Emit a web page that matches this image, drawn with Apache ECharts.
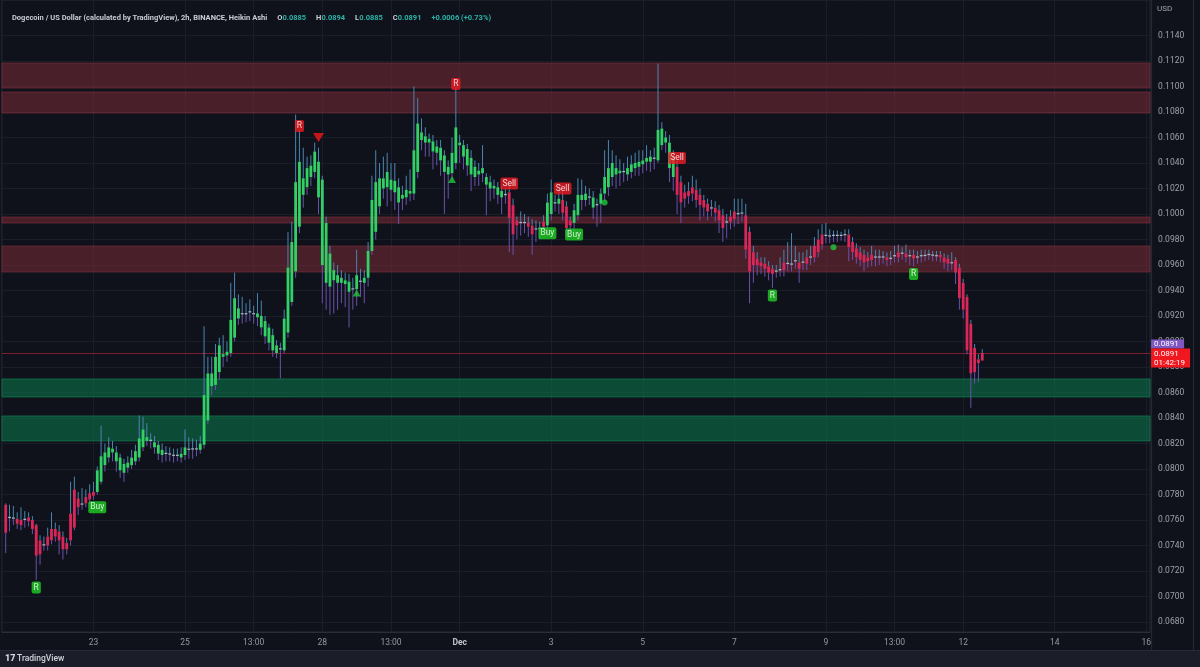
<!DOCTYPE html>
<html><head><meta charset="utf-8">
<script src="https://cdn.jsdelivr.net/npm/echarts@6/dist/echarts.min.js"></script>
<style>html,body{margin:0;padding:0;background:#0f121a;overflow:hidden}#c{width:1200px;height:667px}</style>
</head><body><div id="c"></div>
<script>
// ---- data (2h Heikin Ashi candles, index = 2h slot from Nov 21 00:00) ----
const firstSlot = 1;
const opens = [
.0772,.07615,.0762,.0761,.0760,.0760,.0762,.0760,.0756,.0744,
.0740,.0740,.0744,.0753,.0751,.0747,.0742,.0744,.0754,.0777,
.0772,.0773,.0776,.0779,.0782,.0790,.0803,.0809,.0813,.0813,
.0809,.0804,.0801,.0803,.0806,.0809,.0817,.0825,.0823,.0821,
.0819,.0815,.08125,.0812,.0811,.08105,.0809,.0811,.0815,.0816,
.08155,.0815,.0819,.0838,.0865,.0866,.0876,.0888,.0889,.0891,
.0903,.0918,.09215,.0922,.0923,.0922,.0922,.0920,.0916,.0911,
.0905,.0897,.0894,.0893,.0907,.0931,.0955,.0990,.1015,.1021,
.1029,.1033,.1041,.1027,.0993,.0969,.0956,.0952,.0950,.0948,
.0947,.0941,.0941,.0947,.0946,.0950,.0971,.0986,.1006,.1020,
.1021,.1027,.1026,.1021,.1015,.1013,.1018,.1016,.1033,.1064,
.1061,.1059,.1057,.1053,.1052,.1046,.1037,.1032,.1040,.1056,
.1054,.1051,.1044,.1037,.1034,.1032,.1029,.1025,.1022,.1021,
.1018,.1015,.1017,.1007,.0995,.09935,.0993,.0993,.0991,.0988,
.0989,.0990,.0991,.1000,.10085,.1008,.1011,.1006,.0995,.0993,
.0999,.1011,.1011,.1013,.1013,.1007,.1008,.1016,.1021,.1029,
.1031,.1032,.1033,.1031,.1033,.1036,.1037,.1039,.1041,.1041,
.10435,.1042,.1054,.1060,.1056,.1045,.1037,.1025,.1017,.1014,
.1016,.1019,.1015,.1011,.1008,.1005,.1005,.1003,.0999,.0994,
.0994,.0996,.1000,.10005,.0999,.0986,.0970,.0965,.0962,.0961,
.0959,.0957,.0955,.0956,.0956,.0961,.0961,.0963,.0962,.0962,
.0961,.0966,.0966,.0970,.0976,.0983,.0983,.0983,.09835,.0983,
.09835,.0984,.0978,.0973,.0970,.0968,.0966,.0964,.0966,.09665,
.0966,.0966,.0965,.0967,.0966,.0969,.0969,.0967,.0968,.0966,
.0967,.0967,.0968,.0968,.09675,.0968,.0966,.0965,.0962,.0964,
.0958,.0946,.0935,.0914,.0895,.0886,.0885];
const closes = [
.0750,.07625,.0761,.0757,.0756,.0761,.0759,.0753,.0732,.0733,
.0741,.0747,.0753,.0747,.0744,.0737,.0737,.0765,.0784,.0770,
.0773,.0778,.0781,.0782,.0799,.0810,.0813,.0817,.0816,.0806,
.0799,.0797,.0805,.0809,.0814,.0824,.0831,.0822,.0822,.0817,
.0812,.0811,.0812,.08115,.08105,.0811,.0812,.0817,.0816,.08155,
.0816,.0820,.0858,.0875,.0875,.0888,.0897,.0890,.0892,.0917,
.0934,.0926,.0922,.09215,.09235,.09215,.0919,.0911,.0904,.0899,
.0893,.0891,.08945,.0918,.0958,.0978,.1025,.1041,.1028,.1036,
.1038,.1049,.1013,.0960,.0946,.0943,.0948,.0946,.0946,.0945,
.0939,.09415,.0952,.09475,.0950,.0971,.1011,.1025,.1028,.1028,
.1033,.1019,.1017,.1009,.1012,.1019,.1016,.1050,.1071,.1058,
.1056,.1056,.1049,.1048,.1042,.1033,.1031,.1048,.1068,.1054,
.1045,.1038,.1031,.1029,.1031,.1036,.1023,.1020,.1020,.1015,
.1013,.10155,.0997,.0984,.0991,.0993,.09935,.0990,.0984,.09885,
.09885,.0994,.1009,.1017,.1009,.1012,.1001,.0989,.0991,.1003,
.1015,.1015,.1016,.10135,.1005,.10075,.1016,.1029,.1036,.1040,
.1036,.1034,.10335,.1036,.1039,.1040,.1041,.1042,.1044,.1045,
.1044,.1066,.1067,.1056,.1036,.1029,.1015,.1009,.1012,.1018,
.1021,.1011,.1007,.1005,.1002,.10045,.1001,.0995,.0989,.09935,
.0998,.1002,.10005,.1001,.0972,.0955,.0960,.0960,.0959,.0957,
.0954,.0953,.09555,.09565,.0962,.09615,.09605,.09635,.0957,.09625,
.0966,.09665,.0975,.0980,.0984,.09835,.09825,.09835,.0983,.09835,
.0984,.0974,.0970,.0966,.0964,.0962,.0963,.0968,.09665,.0966,
.09665,.0964,.09655,.09675,.0970,.09695,.0966,.09675,.0965,.09665,
.09675,.0968,.09685,.09675,.0967,.0966,.0962,.0961,.09615,.0954,
.0934,.0925,.0893,.0875,.0876,.0883,.0891];
const lows = [
.0734,.0751,.0756,.0753,.0752,.0754,.0755,.0749,.0713,.0725,
.0736,.0736,.0741,.0743,.0733,.0729,.0733,.0740,.0752,.0764,
.0768,.0770,.0773,.0776,.0780,.0788,.0798,.0805,.0806,.0798,
.0793,.0790,.0797,.0800,.0803,.0806,.0814,.0818,.0816,.0812,
.0807,.0805,.0806,.0806,.0805,.0806,.0805,.0807,.0808,.0808,
.0810,.0812,.0816,.0835,.0858,.0862,.0870,.0880,.0884,.0888,
.0900,.0913,.0914,.0915,.0916,.0914,.0912,.0905,.0898,.0893,
.0888,.0887,.0871,.0891,.0903,.0928,.0950,.0985,.1005,.1015,
.1022,.1028,.1000,.0930,.0925,.0921,.0922,.0925,.0930,.0927,
.0911,.0925,.0928,.0935,.0930,.0943,.0968,.0980,.1000,.1012,
.1006,.1010,.1003,.0992,.1003,.1007,.1010,.1011,.1028,.1050,
.1045,.1045,.1035,.1038,.1030,.1000,.1012,.1027,.1035,.1040,
.1035,.1030,.1018,.1022,.1022,.1025,.0999,.1010,.1012,.1008,
.1000,.1008,.0970,.0968,.0980,.0983,.0985,.0982,.0968,.0978,
.0980,.0985,.0985,.0995,.1002,.1000,.0995,.0983,.0985,.0986,
.0995,.1003,.1006,.1007,.0996,.0990,.0993,.1010,.1014,.1022,
.1020,.1022,.1025,.1026,.1028,.1030,.1030,.1032,.1034,.1033,
.1035,.1040,.1050,.1048,.1025,.1018,.1000,.0993,.1005,.1008,
.1010,.1005,.0995,.0998,.0995,.0998,.0994,.0985,.0978,.0981,
.0988,.0990,.0992,.0994,.0965,.0930,.0946,.0952,.0953,.0951,
.0948,.0942,.0950,.0951,.0951,.0955,.0955,.0957,.0946,.0956,
.0956,.0960,.0962,.0966,.0972,.0977,.0977,.0978,.0978,.0979,
.0978,.0963,.0964,.0961,.0959,.0955,.0958,.0959,.0959,.0960,
.0961,.0959,.0960,.0962,.0962,.0964,.0962,.0960,.0959,.0961,
.0962,.0963,.0964,.0963,.0963,.0962,.0957,.0955,.0956,.0945,
.0925,.0918,.0890,.0848,.0867,.0868,.0885];
const highs = [
.0773,.0772,.0771,.0766,.0770,.0767,.0766,.0763,.0757,.0748,
.0747,.0754,.0766,.0758,.0756,.0751,.0746,.0790,.0794,.0782,
.0785,.0784,.0788,.0790,.0802,.0834,.0820,.0825,.0822,.0818,
.0812,.0808,.0810,.0815,.0819,.0842,.0841,.0836,.0828,.0826,
.0822,.0820,.0818,.0817,.0816,.0816,.0817,.0831,.0825,.0824,
.0823,.0826,.0912,.0888,.0888,.0898,.0903,.0905,.0900,.0946,
.0954,.0937,.0935,.0930,.0933,.0928,.0938,.0932,.0920,.0914,
.0910,.0901,.0899,.0925,.0986,.0994,.1078,.1066,.1052,.1045,
.1046,.1056,.1052,.1030,.0998,.0975,.0962,.0960,.0956,.0954,
.0953,.0950,.0972,.0957,.0956,.0978,.1030,.1050,.1040,.1045,
.1048,.1040,.1040,.1028,.1022,.1030,.1035,.1100,.1091,.1075,
.1068,.1063,.1062,.1058,.1058,.1050,.1042,.1060,.1099,.1062,
.1058,.1055,.1050,.1042,.1040,.1054,.1032,.1030,.1027,.1025,
.1022,.1020,.1025,.1012,.0998,.1002,.1000,.0998,.0996,.0995,
.0994,.0999,.1016,.1027,.1015,.1018,.1018,.1010,.0998,.1008,
.1028,.1027,.1022,.1020,.1018,.1012,.1020,.1050,.1058,.1050,
.1046,.1043,.1040,.1045,.1046,.1048,.1050,.1050,.1054,.1050,
.1052,.1118,.1072,.1065,.1062,.1050,.1042,.1030,.1023,.1025,
.1030,.1027,.1020,.1015,.1012,.1011,.1010,.1007,.1004,.1000,
.1003,.1012,.1012,.1012,.1008,.0990,.0975,.0970,.0966,.0966,
.0963,.0960,.0960,.0966,.0972,.0978,.0985,.0975,.0970,.0970,
.0972,.0975,.0982,.0988,.0992,.0993,.0988,.0987,.0987,.0986,
.0988,.0988,.0982,.0977,.0974,.0972,.0970,.0975,.0972,.0972,
.0971,.0970,.0971,.0975,.0976,.0974,.0976,.0972,.0972,.0971,
.0972,.0972,.0972,.0971,.0971,.0971,.0969,.0968,.0970,.0966,
.0961,.0949,.0937,.0917,.0898,.0890,.0894];

// signals: [slot, price]
const buyLabels   = [[25,0.0770],[143,0.0985],[150,0.0984]];
const sellLabels  = [[133,0.1024],[147,0.1020],[177,0.1044]];
const rRedLabels  = [[78,0.1069],[119,0.1102]];
const rGreenLabels= [[9,0.0707],[202,0.0936],[239,0.0953]];
const triDown     = [[83,0.1060]];
const triUp       = [[93,0.0938],[118,0.1027]];
const dots        = [[158,0.1009],[218,0.0974]];

// zones: [low, high]
const supplyZones = [[0.10988,0.11184],[0.10792,0.10957],[0.09929,0.09976],[0.09545,0.09749]];
const demandZones = [[0.08565,0.08706],[0.08220,0.08416]];

const lastPrice = 0.0891;
const countdown = '01:42:19';
const xTickLabels = [[24,'23'],[48,'25'],[66,'13:00'],[84,'28'],[102,'13:00'],[120,'Dec'],[144,'3'],[168,'5'],[192,'7'],[216,'9'],[234,'13:00'],[252,'12'],[276,'14'],[300,'16']];
const yTickMin = 0.068, yTickMax = 0.114, yTickStep = 0.002;
const headerName = 'Dogecoin / US Dollar (calculated by TradingView), 2h, BINANCE, Heikin Ashi';
const headerO = '0.0885', headerH = '0.0894', headerL = '0.0885', headerC = '0.0891', headerChg = '+0.0006 (+0.73%)';

// ---- build ----
const slotCount = 302;
const cats = [];
for (let k = 0; k < slotCount; k++) cats.push(String(k));
const tickMap = {}; xTickLabels.forEach(t => tickMap[t[0]] = t[1]);

const GREEN = '#33d068', RED = '#d8285a', GREY = '#a9bccb', WICK_UP = '#4a86b0', WICK_DN = '#6a52ab';
const candleData = opens.map((o, i) => [i + firstSlot, o, closes[i], lows[i], highs[i]]);
const buySet = new Set(buyLabels.map(d => d[0])), sellSet = new Set(sellLabels.map(d => d[0]));
const trend = []; let st = -1;
candleData.forEach(d => { if (buySet.has(d[0])) st = 1; if (sellSet.has(d[0])) st = -1; trend.push(st); });

const pxPerUnit = 12750;
const gridLeft = 1.9, gridRight = 49.9;
const yMaxA = yTickMax + 35.5 / pxPerUnit, yMinA = yTickMin - 10 / pxPerUnit;

const FONT = 'Roboto, "Noto Sans", sans-serif';
const chart = echarts.init(document.getElementById('c'));

function labelSeries(data, text, bg) {
  return { type: 'scatter', xAxisIndex: 0, yAxisIndex: 0, data: data, symbolSize: 1, z: 10, silent: true,
    itemStyle: { color: 'transparent' },
    label: { show: true, position: 'inside', formatter: text, color: '#ffffff', backgroundColor: bg,
      fontSize: 8.5, fontFamily: FONT, padding: [2, 2, 1, 2], borderRadius: 2 } };
}

chart.setOption({
  backgroundColor: '#0f121a',
  animation: false,
  title: {
    left: 7, top: 4,
    text: '{t|' + headerName + '}  {t|O}{v|' + headerO + '}  {t|H}{v|' + headerH + '}  {t|L}{v|' + headerL + '}  {t|C}{v|' + headerC + '}  {v|' + headerChg + '}',
    textStyle: { rich: { t: { color: '#c9ccd4', fontSize: 7.5, fontFamily: FONT }, v: { color: '#2bb3a8', fontSize: 7.5, fontFamily: FONT } } }
  },
  grid: [
    { left: gridLeft, right: gridRight, top: 0, bottom: 35, show: true, borderColor: '#262a36', borderWidth: 1, backgroundColor: 'transparent' },
    { left: gridLeft, right: gridRight, top: 35.5, bottom: 45 }
  ],
  xAxis: [
    { type: 'category', gridIndex: 0, data: cats, boundaryGap: false,
      axisLine: { show: true, lineStyle: { color: '#2a2e39' } }, axisTick: { show: false },
      axisLabel: { interval: (i) => tickMap[i] !== undefined, formatter: (v, i) => tickMap[i] === 'Dec' ? '{b|Dec}' : tickMap[i],
        color: '#9598a1', fontSize: 8.5, fontFamily: FONT, margin: 6, rich: { b: { fontWeight: 'bold', color: '#c0c3cb', fontSize: 8.5, fontFamily: FONT } } },
      splitLine: { show: true, interval: (i) => tickMap[i] !== undefined, lineStyle: { color: '#1a1e29', width: 1 } } },
    { type: 'category', gridIndex: 1, data: cats, boundaryGap: false, show: false }
  ],
  yAxis: [
    { type: 'value', gridIndex: 0, min: yMinA, max: yMaxA, show: false, splitLine: { show: false } },
    { type: 'value', gridIndex: 1, position: 'right', min: yTickMin, max: yTickMax, interval: yTickStep,
      axisLine: { show: false }, axisTick: { show: false },
      axisLabel: { color: '#9ea1aa', fontSize: 8.5, fontFamily: FONT, margin: 8, formatter: v => v.toFixed(4) },
      splitLine: { show: true, lineStyle: { color: '#1a1e29', width: 1 } } }
  ],
  series: [
    { type: 'line', xAxisIndex: 0, yAxisIndex: 0, data: closes.map((c, i) => [i + firstSlot, c]), symbol: 'none',
      lineStyle: { opacity: 0 }, silent: true, z: 1,
      markArea: { silent: true, data:
        supplyZones.map(z => [{ yAxis: z[0], itemStyle: { color: 'rgba(122,42,56,0.55)', borderColor: 'rgba(128,48,62,0.6)', borderWidth: 1 } }, { yAxis: z[1] }])
        .concat(demandZones.map(z => [{ yAxis: z[0], itemStyle: { color: 'rgba(10,118,74,0.58)', borderColor: 'rgba(18,130,82,0.65)', borderWidth: 1 } }, { yAxis: z[1] }])) } },
    { type: 'custom', xAxisIndex: 0, yAxisIndex: 0, data: candleData, encode: { x: 0, y: [1, 2, 3, 4] }, z: 5, silent: true,
      renderItem: function (params, api) {
        const k = api.value(0), o = api.value(1), c = api.value(2), l = api.value(3), h = api.value(4);
        const pT = api.coord([k, Math.max(o, c)]), pB = api.coord([k, Math.min(o, c)]);
        const pH = api.coord([k, h]), pL = api.coord([k, l]);
        const xc = pT[0];
        const doji = Math.abs(c - o) < 0.00012;
        const col = doji ? GREY : (trend[params.dataIndex] > 0 ? GREEN : RED);
        let top = pT[1], bh = pB[1] - pT[1];
        if (bh < 1.3) { top = (pT[1] + pB[1]) / 2 - 0.65; bh = 1.3; }
        const bw = 2.8;
        return { type: 'group', children: [
          { type: 'line', shape: { x1: xc, y1: pH[1], x2: xc, y2: top }, style: { stroke: WICK_UP, lineWidth: 1 } },
          { type: 'line', shape: { x1: xc, y1: top + bh, x2: xc, y2: pL[1] }, style: { stroke: WICK_DN, lineWidth: 1 } },
          { type: 'rect', shape: { x: xc - bw / 2, y: top, width: bw, height: bh }, style: { fill: col } }
        ] };
      } },
    labelSeries(buyLabels, 'Buy', '#1fcf24'),
    labelSeries(sellLabels, 'Sell', '#ec1c24'),
    labelSeries(rRedLabels, 'R', '#ec1c24'),
    labelSeries(rGreenLabels, 'R', '#1fcf24'),
    { type: 'scatter', xAxisIndex: 0, yAxisIndex: 0, data: triDown, symbol: 'triangle', symbolRotate: 180, symbolSize: [11, 9], itemStyle: { color: '#f01818' }, z: 10, silent: true },
    { type: 'scatter', xAxisIndex: 0, yAxisIndex: 0, data: triUp, symbol: 'triangle', symbolSize: [8, 7], itemStyle: { color: '#22c63a' }, z: 10, silent: true },
    { type: 'scatter', xAxisIndex: 0, yAxisIndex: 0, data: dots, symbol: 'circle', symbolSize: 6, itemStyle: { color: '#22c63a' }, z: 10, silent: true }
  ]
});

// price line, price-scale tags and chrome, positioned through the axis scale
const yp = Math.round(chart.convertToPixel({ yAxisIndex: 0 }, lastPrice)) + 0.5;
const axX = 1200 - gridRight;
chart.setOption({ graphic: [
  { type: 'line', shape: { x1: gridLeft, y1: yp, x2: axX, y2: yp }, style: { stroke: '#7c1e30', lineWidth: 1 }, z: 4 },
  { type: 'line', shape: { x1: axX + 1.5, y1: 0, x2: axX + 1.5, y2: 650 }, style: { stroke: '#262a36', lineWidth: 1 }, z: 50 },
  { type: 'line', shape: { x1: 1193.5, y1: 0, x2: 1193.5, y2: 650 }, style: { stroke: '#262a36', lineWidth: 1 }, z: 50 },
  { type: 'line', shape: { x1: 0, y1: 650.5, x2: 1200, y2: 650.5 }, style: { stroke: '#262a36', lineWidth: 1 }, z: 50 },
  { type: 'rect', shape: { x: 0, y: 651, width: 1200, height: 16 }, style: { fill: '#1b1e28' }, z: 50 },
  { type: 'text', x: 5, y: 659, style: { text: '17', fill: '#d1d4dc', font: '900 9px ' + FONT, textVerticalAlign: 'middle' }, z: 51 },
  { type: 'text', x: 17, y: 659, style: { text: 'TradingView', fill: '#d1d4dc', font: '500 8.5px ' + FONT, textVerticalAlign: 'middle' }, z: 51 },
  { type: 'text', x: axX + 7, y: 9, style: { text: 'USD', fill: '#9ea1aa', font: '8px ' + FONT, textVerticalAlign: 'middle' }, z: 51 },
  { type: 'rect', shape: { x: axX + 1, y: yp - 14, width: 33, height: 9 }, style: { fill: '#7e57c2' }, z: 52 },
  { type: 'text', x: axX + 4, y: yp - 9.5, style: { text: lastPrice.toFixed(4), fill: '#ffffff', font: '8px ' + FONT, textVerticalAlign: 'middle' }, z: 53 },
  { type: 'rect', shape: { x: axX + 1, y: yp - 5, width: 39, height: 19 }, style: { fill: '#f0171f' }, z: 52 },
  { type: 'text', x: axX + 4, y: yp, style: { text: lastPrice.toFixed(4), fill: '#ffffff', font: '8px ' + FONT, textVerticalAlign: 'middle' }, z: 53 },
  { type: 'text', x: axX + 4, y: yp + 9, style: { text: countdown, fill: '#ffffff', font: '8px ' + FONT, textVerticalAlign: 'middle' }, z: 53 }
] });
</script></body></html>
